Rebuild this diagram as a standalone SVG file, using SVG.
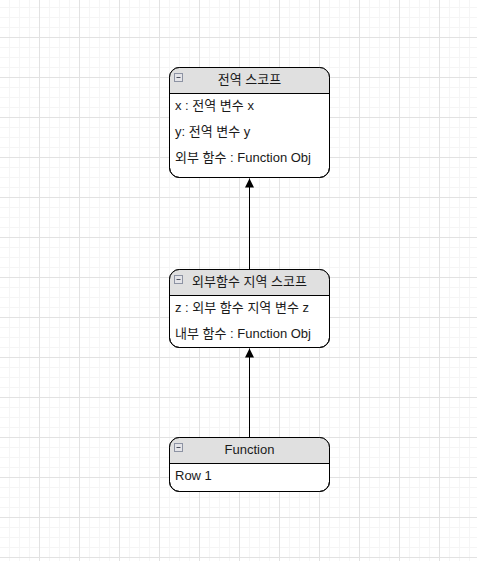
<svg xmlns="http://www.w3.org/2000/svg" width="477" height="561" viewBox="0 0 477 561">
<style>
.box{fill:#ffffff;stroke:#000000;stroke-width:1}
.hdr{fill:#e0e0e0;stroke:none}
.sep{stroke:#000000;stroke-width:1}
.t{font-family:"Liberation Sans","Noto Sans CJK KR",sans-serif;font-size:13px;fill:#1a1a1a}
.h{text-anchor:middle}
.ico{fill:#e4e4e8;stroke:#8d93a3;stroke-width:1}
.icm{stroke:#4a4f5c;stroke-width:1}
.edge{stroke:#000000;stroke-width:1;fill:none}
</style>
<defs>
<pattern id="grid" x="-1" y="-3" width="40" height="40" patternUnits="userSpaceOnUse">
<path d="M10.5 0V40M20.5 0V40M30.5 0V40M0 10.5H40M0 20.5H40M0 30.5H40" stroke="#f5f5f5" stroke-width="1" fill="none"/>
<path d="M0.5 0V40M0 0.5H40" stroke="#e2e2e2" stroke-width="1" fill="none"/>
</pattern>
<marker id="arr" markerWidth="10" markerHeight="10" refX="9" refY="4.5" orient="auto" markerUnits="userSpaceOnUse">
<path d="M0 0L9 4.5L0 9Z" fill="#000000"/>
</marker>
<clipPath id="c1"><rect x="169.5" y="67.5" width="160" height="110" rx="10"/></clipPath>
<clipPath id="c2"><rect x="169.5" y="269.5" width="160" height="78" rx="10"/></clipPath>
<clipPath id="c3"><rect x="169.5" y="437.5" width="160" height="54" rx="10"/></clipPath>
</defs>
<rect width="477" height="561" fill="#ffffff"/>
<rect width="477" height="561" fill="url(#grid)"/>
<g id="connectors">
<path class="edge" d="M249.5 269.5V178.5" marker-end="url(#arr)"/>
<path class="edge" d="M249.5 437.5V348.5" marker-end="url(#arr)"/>
</g>
<g id="global-scope">
<rect class="box" x="169.5" y="67.5" width="160" height="110" rx="10"/>
<rect class="hdr" x="169.5" y="67.5" width="160" height="26" clip-path="url(#c1)"/>
<rect x="169.5" y="67.5" width="160" height="110" rx="10" fill="none" stroke="#000"/>
<line class="sep" x1="169.5" y1="93.5" x2="329.5" y2="93.5"/>
<rect class="ico" x="174.5" y="73.5" width="8" height="8"/>
<line class="icm" x1="176.5" y1="77.5" x2="180.5" y2="77.5"/>
<text class="t h" x="249.5" y="84">전역 스코프</text>
<text class="t" x="175" y="110">x : 전역 변수 x</text>
<text class="t" x="175" y="136">y: 전역 변수 y</text>
<text class="t" x="175" y="162">외부 함수 : Function Obj</text>
</g>
<g id="outer-scope">
<rect class="box" x="169.5" y="269.5" width="160" height="78" rx="10"/>
<rect class="hdr" x="169.5" y="269.5" width="160" height="26" clip-path="url(#c2)"/>
<rect x="169.5" y="269.5" width="160" height="78" rx="10" fill="none" stroke="#000"/>
<line class="sep" x1="169.5" y1="295.5" x2="329.5" y2="295.5"/>
<rect class="ico" x="174.5" y="275.5" width="8" height="8"/>
<line class="icm" x1="176.5" y1="279.5" x2="180.5" y2="279.5"/>
<text class="t h" x="249.5" y="286">외부함수 지역 스코프</text>
<text class="t" x="175" y="312">z : 외부 함수 지역 변수 z</text>
<text class="t" x="175" y="338">내부 함수 : Function Obj</text>
</g>
<g id="function">
<rect class="box" x="169.5" y="437.5" width="160" height="54" rx="10"/>
<rect class="hdr" x="169.5" y="437.5" width="160" height="26" clip-path="url(#c3)"/>
<rect x="169.5" y="437.5" width="160" height="54" rx="10" fill="none" stroke="#000"/>
<line class="sep" x1="169.5" y1="463.5" x2="329.5" y2="463.5"/>
<rect class="ico" x="174.5" y="443.5" width="8" height="8"/>
<line class="icm" x1="176.5" y1="447.5" x2="180.5" y2="447.5"/>
<text class="t h" x="249.5" y="454">Function</text>
<text class="t" x="175" y="480">Row 1</text>
</g>
</svg>
